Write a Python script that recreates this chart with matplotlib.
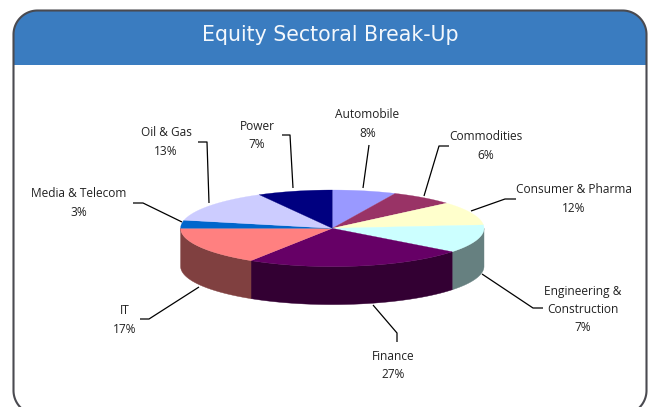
import numpy as np
import matplotlib
matplotlib.use("Agg")
import matplotlib.pyplot as plt
from matplotlib.patches import Polygon, Rectangle
from matplotlib.colors import to_rgb

sectors = ["Automobile", "Commodities", "Consumer & Pharma", "Engineering &\nConstruction",
           "Finance", "IT", "Media & Telecom", "Oil & Gas", "Power"]
label_percents = [8, 6, 12, 7, 27, 17, 3, 13, 7]
# slice sizes as drawn in the picture
drawn_shares = [6.8, 6.8, 10.0, 11.9, 23.5, 16.0, 3.4, 13.6, 8.0]
colors = ["#9999FF", "#993366", "#FFFFCC", "#CCFFFF", "#660066", "#FF8080", "#0066CC", "#CCCCFF", "#000080"]

label_xy = [(367.5, 124), (485.5, 146), (574, 199), (583, 309.5), (393, 365.5), (124.5, 320), (79, 203), (166, 142), (257, 135.5)]
leaders = [
    [(363, 188), (369, 145)],
    [(424, 196), (439, 146), (449, 146)],
    [(471, 211), (505, 199), (516, 199)],
    [(482, 274), (533, 308), (543, 308)],
    [(373, 305), (397, 333), (397, 342)],
    [(199, 287), (149, 319), (140, 319)],
    [(182, 222), (143, 203), (133, 203)],
    [(209, 203), (207, 142), (198, 142)],
    [(293, 188), (290, 135), (282, 135)],
]

CX, CY, RX, RY, DEPTH = 332.3, 228.3, 151.7, 38.3, 38.0

plt.rcParams["font.family"] = ["Open Sans", "DejaVu Sans"]
fig = plt.figure(figsize=(6.52, 4.07), dpi=100)
ax = fig.add_axes([0, 0, 1, 1])
ax.set_xlim(0, 652)
ax.set_ylim(407, 0)
ax.axis("off")


def rounded_outline(x0, y0, x1, y1, r, n=40):
    centres = [(x1 - r, y0 + r, -np.pi / 2, 0), (x1 - r, y1 - r, 0, np.pi / 2),
               (x0 + r, y1 - r, np.pi / 2, np.pi), (x0 + r, y0 + r, np.pi, 3 * np.pi / 2)]
    pts = []
    for cx, cy, a, b in centres:
        t = np.linspace(a, b, n)
        pts.append(np.c_[cx + r * np.cos(t), cy + r * np.sin(t)])
    return np.vstack(pts)


outline = rounded_outline(13.5, 10.5, 646.5, 414.5, 24)
frame = Polygon(outline, closed=True, fc="white", ec="none", zorder=1)
ax.add_patch(frame)
header = Rectangle((13, 10), 634, 55, fc="#3A7CC0", ec="none", zorder=2)
ax.add_patch(header)
header.set_clip_path(frame)
ax.add_patch(Polygon(outline, closed=True, fc="none", ec="#4A4A50", lw=1.5, zorder=3))
ax.text(330, 41, "Equity Sectoral Break-Up", color="#F4F8FC", fontsize=14.8, family="DejaVu Sans",
        ha="center", va="baseline", zorder=4)

edges = np.cumsum([0] + drawn_shares) / np.sum(drawn_shares) * 2 * np.pi


def px(t):
    return CX + RX * np.sin(t)


def py(t):
    return CY - RY * np.cos(t)


# side wall
for a, b, c in zip(edges[:-1], edges[1:], colors):
    lo, hi = max(a, np.pi / 2), min(b, 3 * np.pi / 2)
    if hi > lo:
        t = np.linspace(lo, hi, 120)
        xs = np.r_[px(t), px(t)[::-1]]
        ys = np.r_[py(t), py(t)[::-1] + DEPTH]
        side = tuple(0.5 * v for v in to_rgb(c))
        ax.fill(xs, ys, color=side, lw=0.3, zorder=5)

# top face
for a, b, c in zip(edges[:-1], edges[1:], colors):
    t = np.linspace(a, b, 120)
    ax.fill(np.r_[CX, px(t)], np.r_[CY, py(t)], color=c, lw=0.2, zorder=6)

for name, pct, (x, y), pts in zip(sectors, label_percents, label_xy, leaders):
    ax.plot(*zip(*pts), color="black", lw=0.9, zorder=7, solid_capstyle="butt")
    ax.text(x, y, f"{name}\n{pct}%", fontsize=8.6, color="#222222", ha="center", va="center",
            linespacing=1.53, zorder=8)

fig.savefig("out.png", dpi=100)
